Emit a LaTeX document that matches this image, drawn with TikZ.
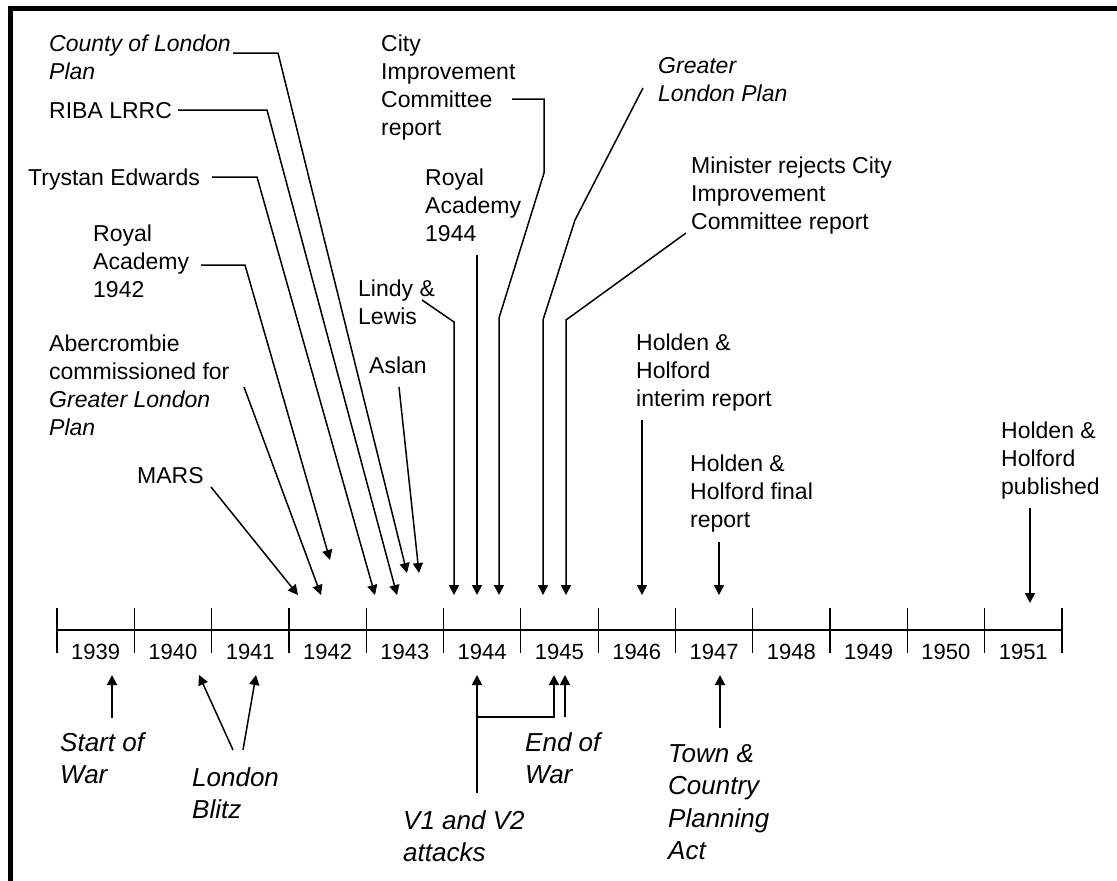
\documentclass[tikz,border=0pt]{standalone}
\usepackage{fontspec}
\setmainfont{Liberation Sans}
\usetikzlibrary{arrows.meta}

\begin{document}
\begin{tikzpicture}[x=1pt, y=-1pt,
  lab/.style={anchor=base west, inner sep=0pt, align=left, font=\fontsize{23}{28}\selectfont},
  evt/.style={anchor=base west, inner sep=0pt, align=left, font=\fontsize{26}{32.5}\selectfont\itshape},
  ptr/.style={line width=1.5pt, -{Triangle[length=10pt,width=10pt]}}]
\useasboundingbox (0,0) rectangle (1117,881);
\fill (8,6) rectangle (1117,11);
\fill (8,6) rectangle (13,881);

% time line
\draw [line width=2.6pt] (57,630) -- (1062,630);
\foreach \yr [count=\i from 0] in {1939,...,1951} {
  \draw [line width=1.2pt] (57+77.3*\i,608) -- (57+77.3*\i,653);
  \node (y\yr) at (57+77.3*\i+38.65,652) {\fontsize{22}{26}\selectfont\yr};
}
\draw [line width=1.2pt] (1062,608) -- (1062,653);

% labels above (placed at the baseline of their last line)
\node [lab, font=\fontsize{23}{28}\selectfont\itshape] (county) at (49,79) {County of London\\Plan};
\node [lab] (riba) at (49,118) {RIBA LRRC};
\node [lab] (trystan) at (28,185) {Trystan Edwards};
\node [lab] (ra42) at (93,297) {Royal\\Academy\\1942};
\node [lab] (aber) at (49,435) {Abercrombie\\commissioned for\\\textit{Greater London}\\\textit{Plan}};
\node [lab] (mars) at (137,483) {MARS};
\node [lab] (aslan) at (369,373) {Aslan};
\node [lab] (lindy) at (358,324) {Lindy \&\\Lewis};
\node [lab] (ra44) at (425,241) {Royal\\Academy\\1944};
\node [lab] (city) at (381,135) {City\\Improvement\\Committee\\report};
\node [lab, font=\fontsize{23}{28}\selectfont\itshape] (glp) at (658,101) {Greater\\London Plan};
\node [lab] (minister) at (691,229) {Minister rejects City\\Improvement\\Committee report};
\node [lab] (hhi) at (636,406) {Holden \&\\Holford\\interim report};
\node [lab] (hhf) at (690,527) {Holden \&\\Holford final\\report};
\node [lab] (hhp) at (1001,494) {Holden \&\\Holford\\published};

% labels below
\node [evt] (sow) at (60,783.5) {Start of\\War};
\node [evt] (blitz) at (192,818.5) {London\\Blitz};
\node [evt] (v12) at (403,861.5) {V1 and V2\\attacks};
\node [evt] (eow) at (525,783.5) {End of\\War};
\node [evt] (tcp) at (668,859.5) {Town \&\\Country\\Planning\\Act};

% where the leaders leave the labels
\coordinate (county-s) at (233,53);
\coordinate (riba-s) at (178,110);
\coordinate (trystan-s) at (212,177);
\coordinate (ra42-s) at (201,265);
\coordinate (aber-s) at (244,387);
\coordinate (mars-s) at (211,487);
\coordinate (aslan-s) at (399,387);
\coordinate (lindy-s) at (422,300);
\coordinate (ra44-s) at (477,255);
\coordinate (city-s) at (512,99);
\coordinate (glp-s) at (643,88);
\coordinate (minister-s) at (686,233);
\coordinate (hhi-s) at (642,420);
\coordinate (hhf-s) at (719,542);
\coordinate (hhp-s) at (1030,508);
\coordinate (sow-s) at (112,718);
\coordinate (blitz-s1) at (233,750);
\coordinate (blitz-s2) at (243,750);
\coordinate (v12-s) at (477,793);
\coordinate (eow-s) at (565,717);
\coordinate (tcp-s) at (720,728);

% where they meet the time line
\coordinate (county-e) at (407,573);
\coordinate (riba-e) at (397,595);
\coordinate (trystan-e) at (375,595);
\coordinate (ra42-e) at (330,560);
\coordinate (aber-e) at (321,595);
\coordinate (mars-e) at (298,595);
\coordinate (aslan-e) at (419,573);
\coordinate (lindy-e) at (454,595);
\coordinate (ra44-e) at (477,595);
\coordinate (city-e) at (499,595);
\coordinate (glp-e) at (543,595);
\coordinate (minister-e) at (566,595);
\coordinate (hhi-e) at (642,595);
\coordinate (hhf-e) at (719,595);
\coordinate (hhp-e) at (1030,603);
\coordinate (sow-e) at (112,675);
\coordinate (blitz-e1) at (199,675);
\coordinate (blitz-e2) at (256,675);
\coordinate (v1-e) at (477,675);
\coordinate (v2-e) at (554,675);
\coordinate (eow-e) at (565,675);
\coordinate (tcp-e) at (720,675);

\draw [ptr] (county-s) -- (278,53) -- (county-e);
\draw [ptr] (riba-s) -- (267,110) -- (riba-e);
\draw [ptr] (trystan-s) -- (257,177) -- (trystan-e);
\draw [ptr] (ra42-s) -- (245,265) -- (ra42-e);
\draw [ptr] (aber-s) -- (aber-e);
\draw [ptr] (mars-s) -- (mars-e);
\draw [ptr] (aslan-s) -- (aslan-e);
\draw [ptr] (lindy-s) -- (454,322) -- (lindy-e);
\draw [ptr] (ra44-s) -- (ra44-e);
\draw [ptr] (city-s) -- (544,99) -- (544,173) -- (499,318) -- (city-e);
\draw [ptr] (glp-s) -- (575,220) -- (543,320) -- (glp-e);
\draw [ptr] (minister-s) -- (566,320) -- (minister-e);
\draw [ptr] (hhi-s) -- (hhi-e);
\draw [ptr] (hhf-s) -- (hhf-e);
\draw [ptr] (hhp-s) -- (hhp-e);

\draw [ptr] (sow-s) -- (sow-e);
\draw [ptr] (blitz-s1) -- (blitz-e1);
\draw [ptr] (blitz-s2) -- (blitz-e2);
\draw [ptr] (v12-s) -- (v1-e);
\draw [ptr] (477,717) -- (554,717) -- (v2-e);
\draw [ptr] (eow-s) -- (eow-e);
\draw [ptr] (tcp-s) -- (tcp-e);

\end{tikzpicture}
\end{document}
